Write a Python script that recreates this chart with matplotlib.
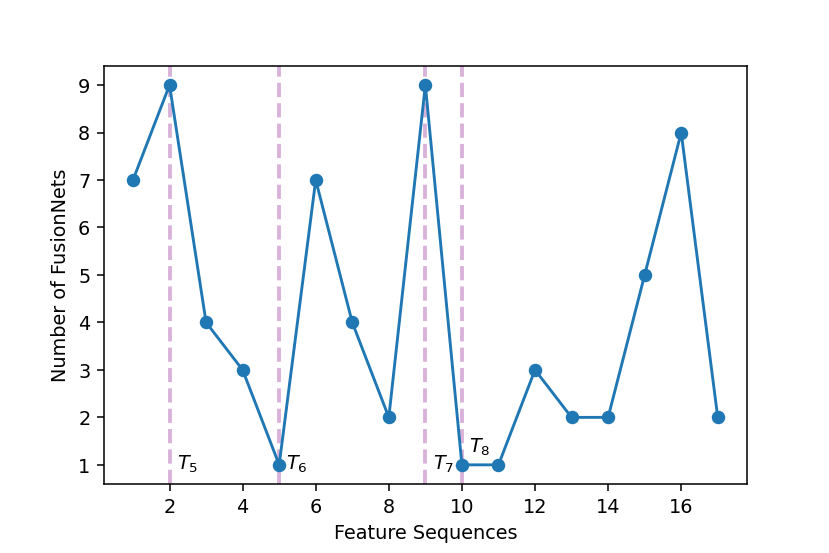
import matplotlib
matplotlib.use('Agg')
import matplotlib.pyplot as plt

# Data
sequences = list(range(1, 18))
fusionnets = [7, 9, 4, 3, 1, 7, 4, 2, 9, 1, 1, 3, 2, 2, 5, 8, 2]

# Threshold markers (vertical dashed lines) and their labels
vlines = [2, 5, 9, 10]
label_x = [2.2, 5.2, 9.2, 10.2]
label_y = [0.8, 0.8, 0.8, 1.15]
labels = [r'$T_5$', r'$T_6$', r'$T_7$', r'$T_8$']

fig = plt.figure(figsize=(6, 4), dpi=138.33)
ax = fig.add_subplot(111)
fig.subplots_adjust(left=0.125, right=0.9, top=0.88, bottom=0.125)

for xv in vlines:
    ax.axvline(xv, color='purple', alpha=0.3, linestyle='--', linewidth=2)

ax.plot(sequences, fusionnets, marker='o', color='tab:blue')

for x, y, t in zip(label_x, label_y, labels):
    ax.text(x, y, t, fontsize=10, ha='left', va='bottom')

ax.set_xticks([2, 4, 6, 8, 10, 12, 14, 16])
ax.set_yticks(range(1, 10))
ax.set_xlabel("Feature Sequences")
ax.set_ylabel("Number of FusionNets")

plt.savefig('out.png', dpi=138.33)
plt.close()
